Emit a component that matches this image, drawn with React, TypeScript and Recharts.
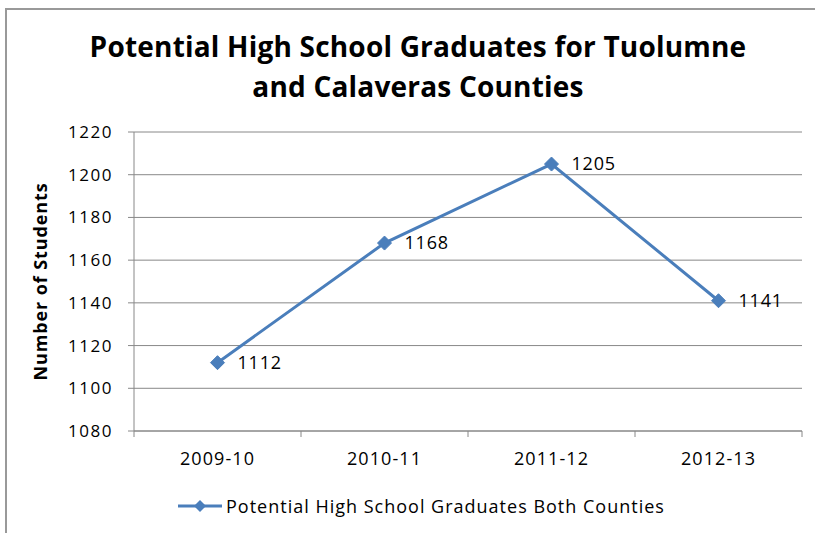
import React from 'react';
import { LineChart, Line, XAxis, YAxis, CartesianGrid, LabelList } from 'recharts';

const categories = ['2009-10', '2010-11', '2011-12', '2012-13'];
const graduates = [1112, 1168, 1205, 1141];
const yTicks = [1080, 1100, 1120, 1140, 1160, 1180, 1200, 1220];
const boundaryTicks = [0, 1, 2, 3, 4];
const seriesName = 'Potential High School Graduates Both Counties';
const titleLines = ['Potential High School Graduates for Tuolumne', 'and Calaveras Counties'];
const yLabel = 'Number of Students';

const data = categories.map((c, i) => ({ year: c, value: graduates[i] }));
const boundsData = boundaryTicks.map((b) => ({ b }));

const FONT = '"Open Sans", Lato, sans-serif';
const LINE = '#4A7EBB';
const GRID = '#888888';
const MARGIN = { top: 132, right: 13, bottom: 72, left: 0 };

const Diamond = (props: any) => {
  const { cx, cy } = props;
  if (cx == null || cy == null) return null;
  const r = 7;
  return <polygon points={`${cx},${cy - r} ${cx + r},${cy} ${cx},${cy + r} ${cx - r},${cy}`} fill={LINE} stroke={LINE} />;
};

const YLabel = (props: any) => {
  const vb = props.viewBox || {};
  const cy = vb.y + vb.height / 2;
  const x = 40;
  return (
    <text x={x} y={cy} transform={`rotate(-90, ${x}, ${cy})`} textAnchor="middle" dominantBaseline="central"
      style={{ fontFamily: FONT, fontWeight: 700, fontSize: 18, letterSpacing: 0.9, fill: '#000' }}>
      {yLabel}
    </text>
  );
};

export default function App() {
  return (
    <div style={{ position: 'absolute', left: 0, top: 0, width: 815, height: 533, overflow: 'hidden', background: '#fff' }}>
      <div style={{ position: 'absolute', left: 5, top: 8, width: 900, height: 700, borderLeft: '2px solid #999', borderTop: '2px solid #999' }} />
      <div style={{ position: 'absolute', left: 0, top: 26, width: 836, textAlign: 'center', fontFamily: FONT, fontWeight: 700, fontSize: 28, letterSpacing: 0.2, lineHeight: '40px', color: '#000' }}>
        {titleLines.map((t) => (<div key={t}>{t}</div>))}
      </div>
      <div style={{ position: 'absolute', left: 0, top: 0 }}>
        <LineChart width={815} height={533} data={boundsData} margin={MARGIN}>
          <XAxis xAxisId="bounds" dataKey="b" type="number" domain={[0, 4]} ticks={boundaryTicks} height={30}
            axisLine={{ stroke: GRID }} tickLine={{ stroke: GRID }} tickSize={6} tickFormatter={() => ''} />
          <YAxis domain={[1080, 1220]} width={134} axisLine={false} tickLine={false} tick={false} />
        </LineChart>
      </div>
      <div style={{ position: 'absolute', left: 0, top: 0 }}>
        <LineChart width={815} height={533} data={data} margin={MARGIN}>
          <CartesianGrid vertical={false} stroke={GRID} strokeWidth={1} />
          <XAxis dataKey="year" scale="band" height={30} axisLine={false} tickLine={false}
            tick={{ fill: '#000', fontSize: 18, fontFamily: FONT, letterSpacing: 1.1 }} tickMargin={15} interval={0} />
          <YAxis domain={[1080, 1220]} ticks={yTicks} width={134} interval={0}
            axisLine={{ stroke: GRID }} tickLine={{ stroke: GRID }} tickSize={6} tickMargin={15}
            tick={{ fill: '#000', fontSize: 17, fontFamily: FONT, letterSpacing: 1.5 }} label={<YLabel />} />
          <Line dataKey="value" name={seriesName} stroke={LINE} strokeWidth={3} dot={<Diamond />} activeDot={false}
            isAnimationActive={false}>
            <LabelList dataKey="value" position="right" offset={20} style={{ fill: '#000', fontSize: 18, fontFamily: FONT, letterSpacing: 0.8 }} />
          </Line>
        </LineChart>
      </div>
      <div style={{ position: 'absolute', left: 176, top: 494, display: 'flex', alignItems: 'center', fontFamily: FONT, fontSize: 18, letterSpacing: 1, color: '#000' }}>
        <svg width={48} height={14} style={{ marginRight: 2 }}>
          <line x1={2} y1={7} x2={46} y2={7} stroke={LINE} strokeWidth={3} />
          <polygon points="24,1 30,7 24,13 18,7" fill={LINE} />
        </svg>
        <span>{seriesName}</span>
      </div>
    </div>
  );
}
